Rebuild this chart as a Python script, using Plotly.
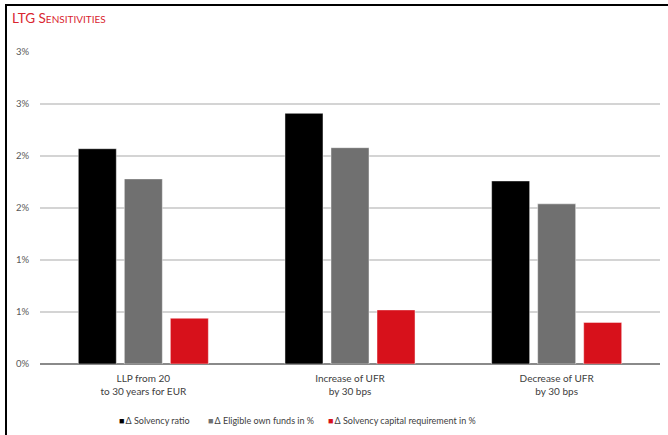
import plotly.graph_objects as go

# Scenario labels (two lines each) and sensitivity results as fractions
categories = ["LLP from 20<br>to 30 years for EUR",
              "Increase of UFR<br>by 30 bps",
              "Decrease of UFR<br>by 30 bps"]
series_names = ["Δ Solvency ratio",
                "Δ Eligible own funds in %",
                "Δ Solvency capital requirement in %"]
solvency_ratio = [0.0207, 0.0241, 0.0176]
eligible_own_funds = [0.0178, 0.0208, 0.0154]
scr_change = [0.0044, 0.0052, 0.0040]
y_ticks = [0, 0.005, 0.01, 0.015, 0.02, 0.025, 0.03]

colors = ["#000000", "#707070", "#D7111B"]
series_values = [solvency_ratio, eligible_own_funds, scr_change]
FONT = "Lato, 'Open Sans', sans-serif"

fig = go.Figure()
for name, vals, col in zip(series_names, series_values, colors):
    fig.add_trace(go.Bar(
        x=categories, y=vals, name=name,
        marker=dict(color=col, line=dict(color="rgba(255,255,255,0.45)", width=1)),
        showlegend=False,
    ))

# Legend row drawn as text with coloured square glyphs
legend_x_px = [117, 205.5, 326]
for name, col, px in zip(series_names, colors, legend_x_px):
    fig.add_annotation(
        x=(px - 40) / 620, y=-0.18, xref="paper", yref="paper",
        xanchor="left", yanchor="middle", showarrow=False,
        text=f"<span style='color:{col}'>■</span>\u2009{name}",
        font=dict(family=FONT, size=9, color="#404040"),
    )

# Outer frame: left and top edges as thin filled bands (pixel -> paper)
def px_x(p):
    return (p - 40) / 620


def px_y(p):
    return (364 - p) / 312


fig.add_shape(type="rect", xref="paper", yref="paper",
              x0=px_x(5), x1=px_x(7), y0=px_y(440), y1=px_y(4),
              fillcolor="#000000", line=dict(width=0), layer="above")
fig.add_shape(type="rect", xref="paper", yref="paper",
              x0=px_x(5), x1=px_x(700), y0=px_y(6), y1=px_y(4),
              fillcolor="#000000", line=dict(width=0), layer="above")

fig.update_layout(
    width=668, height=435,
    margin=dict(l=40, r=8, t=52, b=71),
    paper_bgcolor="white", plot_bgcolor="white",
    barmode="group", bargap=0.332, bargroupgap=0.174,
    title=dict(
        text="LTG S<span style='font-size:10px'>ENSITIVITIES</span>",
        x=12 / 668, xref="container", xanchor="left",
        y=1 - 18 / 435, yref="container", yanchor="middle",
        font=dict(family=FONT, size=13.5, color="#D9252F"),
    ),
    xaxis=dict(
        tickfont=dict(family=FONT, size=10, color="#404040"),
        showgrid=False, ticks="", showline=False,
        ticklabelstandoff=7,
    ),
    yaxis=dict(
        range=[0, 0.03], tickvals=y_ticks, tickformat=".0%",
        tickfont=dict(family=FONT, size=9.5, color="#595959"),
        showgrid=True, gridcolor="#d4d4d4", gridwidth=1.5,
        zeroline=True, zerolinecolor="#8a8a8a", zerolinewidth=1.5,
        ticks="", ticklabelstandoff=10, showline=False,
    ),
)

fig.write_html("out.html")
